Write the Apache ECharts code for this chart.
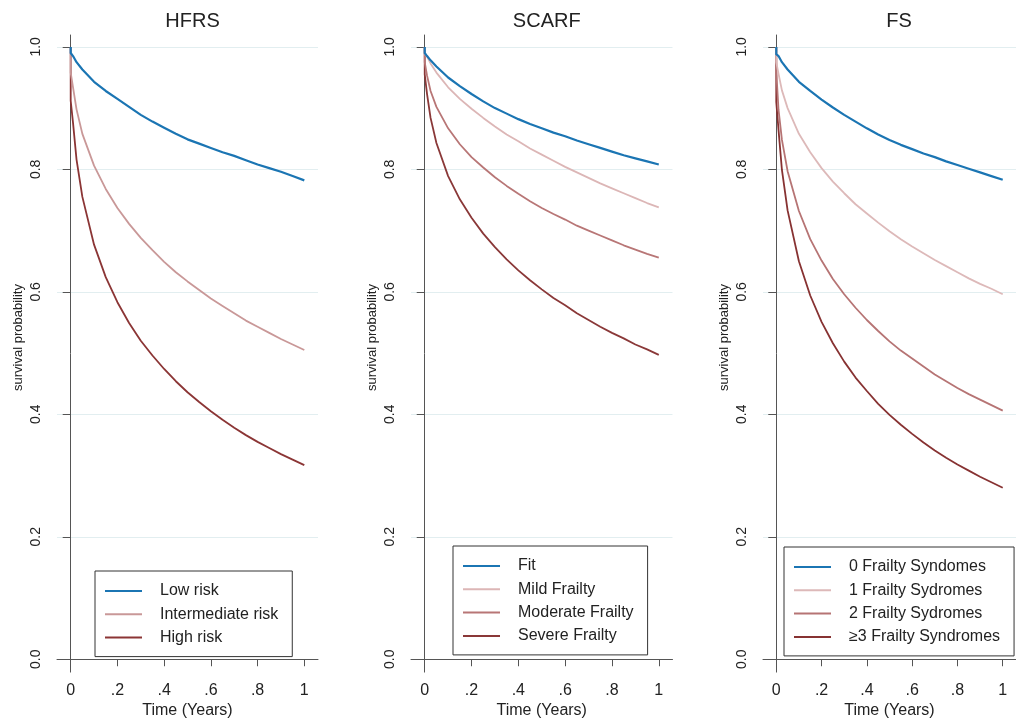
<!DOCTYPE html>
<html lang="en">
<head>
  <meta charset="utf-8">
  <style>
    html, body { margin: 0; background: #fff; }
    #chart { width: 1016px; height: 724px; }
  </style>
</head>
<body>
  <div id="chart"></div>
  <script src="https://cdn.jsdelivr.net/npm/echarts@6/dist/echarts.min.js"></script>
  <script>
    // time points (years); the repeated 0 carries the drop at time zero
    const times = [0, 0, 0.01, 0.025, 0.05, 0.1, 0.15, 0.2, 0.25, 0.3, 0.35, 0.4, 0.45, 0.5,
      0.55, 0.6, 0.65, 0.7, 0.75, 0.8, 0.85, 0.9, 0.95, 1];

    // HFRS
    const hfrsLow = [1.0, 0.990, 0.985, 0.975, 0.963, 0.943, 0.928, 0.915, 0.902, 0.889, 0.878, 0.868,
      0.858, 0.849, 0.842, 0.835, 0.828, 0.822, 0.815, 0.808, 0.802, 0.796, 0.789, 0.782];
    const hfrsIntermediate = [1.0, 0.958, 0.934, 0.898, 0.858, 0.806, 0.768, 0.737, 0.711, 0.688, 0.668, 0.649,
      0.632, 0.617, 0.603, 0.589, 0.577, 0.565, 0.553, 0.543, 0.533, 0.523, 0.514, 0.505];
    const hfrsHigh = [1.0, 0.912, 0.876, 0.816, 0.755, 0.677, 0.624, 0.583, 0.549, 0.520, 0.496, 0.474,
      0.454, 0.436, 0.420, 0.405, 0.391, 0.378, 0.366, 0.355, 0.345, 0.335, 0.326, 0.317];

    // SCARF
    const scarfFit = [1.0, 0.990, 0.985, 0.978, 0.968, 0.950, 0.936, 0.923, 0.911, 0.900, 0.891, 0.882,
      0.874, 0.867, 0.860, 0.854, 0.847, 0.841, 0.835, 0.829, 0.823, 0.818, 0.813, 0.808];
    const scarfMild = [1.0, 0.988, 0.984, 0.973, 0.958, 0.934, 0.915, 0.899, 0.884, 0.870, 0.857, 0.846,
      0.834, 0.824, 0.814, 0.804, 0.795, 0.786, 0.777, 0.769, 0.761, 0.753, 0.745, 0.738];
    const scarfModerate = [1.0, 0.975, 0.953, 0.928, 0.902, 0.867, 0.841, 0.820, 0.803, 0.787, 0.773, 0.760,
      0.748, 0.737, 0.727, 0.718, 0.708, 0.700, 0.692, 0.684, 0.676, 0.669, 0.662, 0.656];
    const scarfSevere = [1.0, 0.955, 0.923, 0.884, 0.843, 0.789, 0.751, 0.721, 0.695, 0.673, 0.653, 0.635,
      0.619, 0.604, 0.590, 0.578, 0.565, 0.554, 0.543, 0.533, 0.524, 0.514, 0.506, 0.497];

    // FS
    const fs0 = [1.0, 0.988, 0.985, 0.975, 0.963, 0.943, 0.928, 0.914, 0.901, 0.889, 0.878, 0.867,
      0.857, 0.848, 0.840, 0.833, 0.826, 0.820, 0.813, 0.807, 0.801, 0.795, 0.789, 0.783];
    const fs1 = [1.0, 0.975, 0.956, 0.929, 0.900, 0.858, 0.828, 0.802, 0.780, 0.761, 0.743, 0.728,
      0.713, 0.699, 0.686, 0.674, 0.663, 0.652, 0.642, 0.632, 0.622, 0.613, 0.605, 0.596];
    const fs2 = [1.0, 0.960, 0.897, 0.848, 0.797, 0.732, 0.686, 0.651, 0.621, 0.596, 0.574, 0.554,
      0.536, 0.519, 0.504, 0.491, 0.478, 0.465, 0.454, 0.443, 0.433, 0.424, 0.415, 0.406];
    const fs3 = [1.0, 0.910, 0.864, 0.799, 0.733, 0.650, 0.594, 0.551, 0.516, 0.486, 0.460, 0.438,
      0.417, 0.399, 0.383, 0.368, 0.354, 0.341, 0.329, 0.318, 0.308, 0.298, 0.289, 0.280];

    // ticks
    const xTickValues = [0, 0.2, 0.4, 0.6, 0.8, 1];
    const xTickLabels = ['0', '.2', '.4', '.6', '.8', '1'];
    const yTickValues = [0, 0.2, 0.4, 0.6, 0.8, 1];
    const yTickLabels = ['0.0', '0.2', '0.4', '0.6', '0.8', '1.0'];

    const panelTitles = ['HFRS', 'SCARF', 'FS'];
    const panelNames = [
      ['Low risk', 'Intermediate risk', 'High risk'],
      ['Fit', 'Mild Frailty', 'Moderate Frailty', 'Severe Frailty'],
      ['0 Frailty Syndomes', '1 Frailty Sydromes', '2 Frailty Sydromes', '≥3 Frailty Syndromes']
    ];
    const panelValues = [
      [hfrsLow, hfrsIntermediate, hfrsHigh],
      [scarfFit, scarfMild, scarfModerate, scarfSevere],
      [fs0, fs1, fs2, fs3]
    ];
    const panelColors = [
      ['#1b75b3', '#c99898', '#8b3535'],
      ['#1b75b3', '#dcb6b6', '#b87676', '#8a3838'],
      ['#1b75b3', '#ddb9b9', '#b67474', '#873232']
    ];

    // layout
    const grids = [
      { left: 57, top: 35, width: 261, height: 642 },
      { left: 411, top: 35, width: 261.5, height: 642 },
      { left: 763, top: 35, width: 264, height: 642 }
    ];
    const legendPos = [
      { left: 95, top: 571 },
      { left: 453, top: 546 },
      { left: 784, top: 547 }
    ];
    const axisColor = '#555';
    const textColor = '#222';
    const font = 'Liberation Sans, Arial, sans-serif';

    var chart = echarts.init(document.getElementById('chart'), null, { renderer: 'canvas' });

    var xAxes = [], yAxes = [], series = [], legends = [], titles = [];
    grids.forEach(function (g, p) {
      titles.push({
        text: panelTitles[p],
        left: g.left + g.width / 2 - (p === 2 ? 1 : 0),
        top: 6,
        textAlign: 'center',
        textStyle: { fontSize: 20, fontWeight: 'normal', color: textColor, fontFamily: font }
      });
      xAxes.push({
        gridIndex: p,
        type: 'value',
        min: -0.0586,
        max: 1.0586,
        name: 'Time (Years)',
        nameLocation: 'middle',
        nameGap: 28,
        nameTextStyle: { fontSize: 16, color: textColor, fontFamily: font },
        axisLine: { show: true, lineStyle: { color: axisColor, width: 1 } },
        axisTick: { show: true, length: 7, customValues: xTickValues, lineStyle: { color: axisColor } },
        axisLabel: {
          customValues: xTickValues,
          margin: 10,
          fontSize: 16,
          color: textColor,
          fontFamily: font,
          formatter: function (v) {
            var i = xTickValues.findIndex(function (t) { return Math.abs(t - v) < 1e-6; });
            return i >= 0 ? xTickLabels[i] : '';
          }
        },
        splitLine: { show: false }
      });
      yAxes.push({
        gridIndex: p,
        type: 'value',
        min: -0.021,
        max: 1.0194,
        name: 'survival probability',
        nameLocation: 'middle',
        nameRotate: 90,
        nameGap: 32,
        nameTextStyle: { fontSize: 13, color: textColor, fontFamily: font, padding: [0, 0, 0, 32] },
        axisLine: { show: true, lineStyle: { color: axisColor, width: 1 } },
        axisTick: { show: true, length: 8, customValues: yTickValues, lineStyle: { color: axisColor } },
        axisLabel: {
          customValues: yTickValues,
          rotate: 90,
          margin: 14,
          fontSize: 14,
          color: textColor,
          fontFamily: font,
          formatter: function (v) {
            var i = yTickValues.findIndex(function (t) { return Math.abs(t - v) < 1e-6; });
            return i >= 0 ? yTickLabels[i] : '';
          }
        },
        splitLine: { show: true, lineStyle: { color: '#e2eef0', width: 1 } }
      });
      panelNames[p].forEach(function (name, k) {
        series.push({
          name: name,
          type: 'line',
          xAxisIndex: p,
          yAxisIndex: p,
          showSymbol: false,
          symbol: 'none',
          smooth: false,
          color: panelColors[p][k],
          lineStyle: { color: panelColors[p][k], width: k === 0 ? 2.2 : 1.8, join: 'round' },
          z: 10 - k,
          data: times.map(function (t, i) { return [t, panelValues[p][k][i]]; })
        });
      });
      legends.push({
        data: panelNames[p],
        orient: 'vertical',
        left: legendPos[p].left,
        top: legendPos[p].top,
        icon: 'rect',
        itemWidth: 37,
        itemHeight: 2,
        itemGap: 7.3,
        padding: [12, 14, 11, 10],
        borderColor: '#333',
        borderWidth: 1,
        selectedMode: false,
        textStyle: { fontSize: 16, lineHeight: 16, color: textColor, fontFamily: font, padding: [0, 0, 0, 13] }
      });
    });

    var option = {
      backgroundColor: '#fff',
      animation: false,
      title: titles,
      grid: grids,
      xAxis: xAxes,
      yAxis: yAxes,
      legend: legends,
      series: series
    };
    chart.setOption(option);
    window.addEventListener('resize', chart.resize);
  </script>
</body>
</html>
